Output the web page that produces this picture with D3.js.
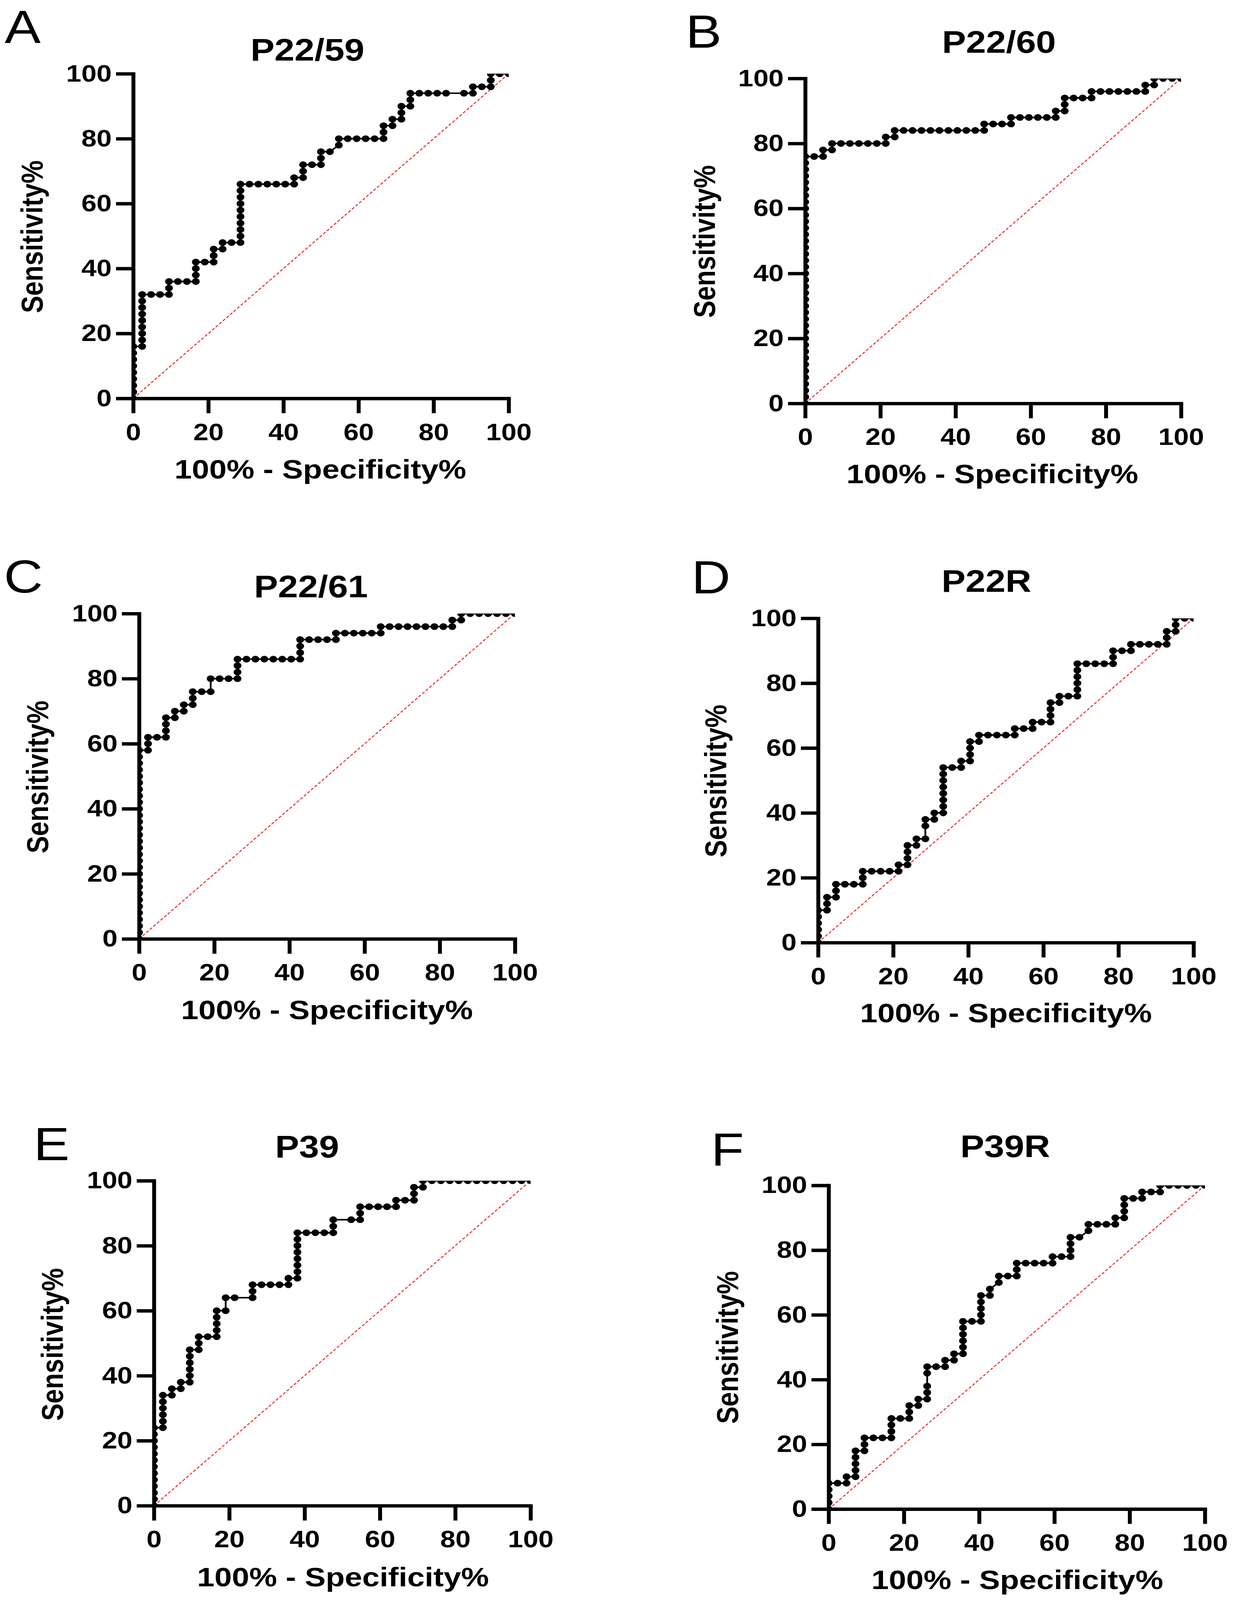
<!DOCTYPE html>
<html>
<head>
<meta charset="utf-8">
<script src="https://cdn.jsdelivr.net/npm/d3@7"></script>
<style>
  html, body { margin: 0; padding: 0; background: #fff; overflow: hidden; }
  svg { display: block; width: 100vw; height: 100vh; }
  svg text { font-family: "Liberation Sans", Arial, sans-serif; font-weight: bold; fill: #000; }
  svg text.letter { font-weight: 400; }
</style>
</head>
<body>
<svg id="fig" viewBox="0 0 3156 4751" preserveAspectRatio="none"></svg>
<script>
// tick labels and axis titles
const xTicks = [0, 20, 40, 60, 80, 100];
const yTicks = [0, 20, 40, 60, 80, 100];
const xTitle = "100% - Specificity%";
const yTitle = "Sensitivity%";

const letters = ["A", "B", "C", "D", "E", "F"];
const titles = ["P22/59", "P22/60", "P22/61", "P22R", "P39", "P39R"];

// ROC points: [100% - specificity %, sensitivity %]
const p2259 = [[0,0],[0,2],[0,4],[0,6],[0,8],[0,10],[0,12],[0,14],[0,16],
  [2.38,16],[2.38,18],[2.38,20],[2.38,22],[2.38,24],[2.38,26],[2.38,28],[2.38,30],[2.38,32],
  [4.76,32],[7.14,32],[9.52,32],[9.52,34],[9.52,36],
  [11.9,36],[14.29,36],[16.67,36],[16.67,38],[16.67,40],[16.67,42],
  [19.05,42],[21.43,42],[21.43,44],[21.43,46],
  [23.81,46],[23.81,48],[26.19,48],
  [28.57,48],[28.57,50],[28.57,52],[28.57,54],[28.57,56],[28.57,58],[28.57,60],[28.57,62],[28.57,64],[28.57,66],
  [30.95,66],[33.33,66],[35.71,66],[38.1,66],[40.48,66],[42.86,66],[42.86,68],
  [45.24,68],[45.24,70],[45.24,72],[47.62,72],[50,72],[50,74],[50,76],[52.38,76],
  [54.76,78],[54.76,80],[57.14,80],[59.52,80],[61.9,80],[64.29,80],[66.67,80],[66.67,82],[66.67,84],
  [69.05,84],[69.05,86],[71.43,86],[71.43,88],[71.43,90],[73.81,90],[73.81,92],[73.81,94],
  [76.19,94],[78.57,94],[80.95,94],[83.33,94],[88.1,94],[90.48,94],[90.48,96],[92.86,96],
  [95.24,96],[95.24,98],[95.24,100],[97.62,100],[100,100]];

const p2260 = [[0,0],[0,2],[0,4],[0,6],[0,8],[0,10],[0,12],[0,14],[0,16],[0,18],
  [0,20],[0,22],[0,24],[0,26],[0,28],[0,30],[0,32],[0,34],[0,36],[0,38],
  [0,40],[0,42],[0,44],[0,46],[0,48],[0,50],[0,52],[0,54],[0,56],[0,58],
  [0,60],[0,62],[0,64],[0,66],[0,68],[0,70],[0,72],[0,74],[0,76],
  [2.38,76],[4.76,76],[4.76,78],[7.14,78],[7.14,80],
  [9.52,80],[11.9,80],[14.29,80],[16.67,80],[19.05,80],[21.43,80],[21.43,82],
  [23.81,82],[23.81,84],[26.19,84],[28.57,84],[30.95,84],[33.33,84],[35.71,84],[38.1,84],
  [40.48,84],[42.86,84],[45.24,84],[47.62,84],[47.62,86],
  [50,86],[52.38,86],[54.76,86],[54.76,88],[57.14,88],[59.52,88],[61.9,88],[64.29,88],[66.67,88],[66.67,90],
  [69.05,90],[69.05,92],[69.05,94],[71.43,94],[73.81,94],[76.19,94],[76.19,96],
  [78.57,96],[80.95,96],[83.33,96],[85.71,96],[88.1,96],[90.48,96],[90.48,98],
  [92.86,98],[92.86,100],[95.24,100],[97.62,100],[100,100]];

const p2261 = [[0,0],[0,2],[0,4],[0,6],[0,8],[0,10],[0,12],[0,14],[0,16],[0,18],
  [0,20],[0,22],[0,24],[0,26],[0,28],[0,30],[0,32],[0,34],[0,36],[0,38],
  [0,40],[0,42],[0,44],[0,46],[0,48],[0,50],[0,52],[0,54],[0,56],[0,58],
  [2.38,58],[2.38,60],[2.38,62],[4.76,62],[7.14,62],[7.14,64],[7.14,66],[7.14,68],
  [9.52,68],[9.52,70],[11.9,70],[11.9,72],[14.29,72],[14.29,74],[14.29,76],[16.67,76],
  [19.05,76],[19.05,80],[21.43,80],[23.81,80],[26.19,80],[26.19,82],[26.19,84],[26.19,86],
  [28.57,86],[30.95,86],[33.33,86],[35.71,86],[38.1,86],[40.48,86],[42.86,86],[42.86,88],[42.86,90],[42.86,92],
  [45.24,92],[47.62,92],[50,92],[52.38,92],[52.38,94],
  [54.76,94],[57.14,94],[59.52,94],[61.9,94],[64.29,94],[64.29,96],
  [66.67,96],[69.05,96],[71.43,96],[73.81,96],[76.19,96],[78.57,96],[80.95,96],[83.33,96],[83.33,98],
  [85.71,98],[85.71,100],[88.1,100],[90.48,100],[92.86,100],[95.24,100],[97.62,100],[100,100]];

const p22R = [[0,0],[0,2],[0,4],[0,6],[0,8],[0,10],
  [2.38,10],[2.38,12],[2.38,14],[4.76,14],[4.76,16],[4.76,18],
  [7.14,18],[9.52,18],[11.9,18],[11.9,20],[11.9,22],
  [14.29,22],[16.67,22],[19.05,22],[21.43,22],[21.43,24],
  [23.81,24],[23.81,26],[23.81,28],[23.81,30],[26.19,30],[26.19,32],
  [28.57,32],[28.57,36],[28.57,38],[30.95,38],[30.95,40],
  [33.33,40],[33.33,42],[33.33,44],[33.33,46],[33.33,48],[33.33,50],[33.33,52],[33.33,54],
  [35.71,54],[38.1,54],[38.1,56],[40.48,56],[40.48,58],[40.48,60],[40.48,62],[42.86,62],[42.86,64],
  [45.24,64],[47.62,64],[50,64],[52.38,64],[52.38,66],[54.76,66],[57.14,66],[57.14,68],[59.52,68],
  [61.9,68],[61.9,70],[61.9,72],[61.9,74],[64.29,74],[64.29,76],[66.67,76],
  [69.05,76],[69.05,78],[69.05,80],[69.05,82],[69.05,84],[69.05,86],
  [71.43,86],[73.81,86],[76.19,86],[78.57,86],[78.57,88],[78.57,90],[80.95,90],[83.33,90],[83.33,92],
  [85.71,92],[88.1,92],[90.48,92],[92.86,92],[92.86,94],[92.86,96],
  [95.24,96],[95.24,98],[95.24,100],[97.62,100],[100,100]];

const p39 = [[0,0],[0,2],[0,4],[0,6],[0,8],[0,10],[0,12],[0,14],[0,16],[0,18],[0,20],[0,22],[0,24],
  [2.38,24],[2.38,26],[2.38,28],[2.38,30],[2.38,32],[2.38,34],
  [4.76,34],[4.76,36],[7.14,36],[7.14,38],
  [9.52,38],[9.52,40],[9.52,42],[9.52,44],[9.52,46],[9.52,48],
  [11.9,48],[11.9,50],[11.9,52],[14.29,52],
  [16.67,52],[16.67,54],[16.67,56],[16.67,58],[16.67,60],
  [19.05,60],[19.05,64],[21.43,64],
  [26.19,64],[26.19,66],[26.19,68],[28.57,68],[30.95,68],[33.33,68],[35.71,68],[35.71,70],
  [38.1,70],[38.1,72],[38.1,74],[38.1,76],[38.1,78],[38.1,80],[38.1,82],[38.1,84],
  [40.48,84],[42.86,84],[45.24,84],[47.62,84],[47.62,86],[47.62,88],
  [52.38,88],[54.76,88],[54.76,90],[54.76,92],
  [57.14,92],[59.52,92],[61.9,92],[64.29,92],[64.29,94],[66.67,94],
  [69.05,94],[69.05,96],[69.05,98],[71.43,98],[71.43,100],
  [73.81,100],[76.19,100],[78.57,100],[80.95,100],[83.33,100],[85.71,100],
  [88.1,100],[90.48,100],[92.86,100],[95.24,100],[97.62,100],[100,100]];

const p39R = [[0,0],[0,2],[0,4],[0,6],[0,8],[2.38,8],[4.76,8],[4.76,10],
  [7.14,10],[7.14,12],[7.14,14],[7.14,16],[7.14,18],
  [9.52,18],[9.52,20],[9.52,22],[11.9,22],[14.29,22],
  [16.67,22],[16.67,24],[16.67,26],[16.67,28],[19.05,28],
  [21.43,28],[21.43,30],[21.43,32],[23.81,32],[23.81,34],
  [26.19,34],[26.19,36],[26.19,38],[26.19,42],[26.19,44],[28.57,44],
  [30.95,44],[30.95,46],[33.33,46],[33.33,48],
  [35.71,48],[35.71,50],[35.71,52],[35.71,54],[35.71,56],[35.71,58],[38.1,58],
  [40.48,58],[40.48,60],[40.48,62],[40.48,64],[40.48,66],[42.86,66],[42.86,68],
  [45.24,70],[45.24,72],[47.62,72],[50,72],[50,74],[50,76],
  [52.38,76],[54.76,76],[57.14,76],[59.52,76],[59.52,78],[61.9,78],
  [64.29,78],[64.29,80],[64.29,82],[64.29,84],[66.67,84],
  [69.05,86],[69.05,88],[71.43,88],[73.81,88],[76.19,88],[76.19,90],
  [78.57,90],[78.57,92],[78.57,94],[78.57,96],[80.95,96],[83.33,96],[83.33,98],
  [85.71,98],[88.1,98],[88.1,100],[90.48,100],[92.86,100],[95.24,100],[97.62,100],[100,100]];

const series = [p2259, p2260, p2261, p22R, p39, p39R];

// page layout of each panel (pixels)
const layout = [
  { left: 341,  top: 219,  w: 961, h: 964, titleX: 787,  titleY: 180,  letterX: 12,   letterY: 128,
    xLabX: 820,  xLabY: 1421, yLabX: 109,  yLabY: 703 },
  { left: 2061, top: 233,  w: 962, h: 965, titleX: 2557, titleY: 157,  letterX: 1755, letterY: 142,
    xLabX: 2540, xLabY: 1435, yLabX: 1830, yLabY: 717 },
  { left: 356,  top: 1822, w: 962, h: 966, titleX: 796,  titleY: 1774, letterX: 10,   letterY: 1760,
    xLabX: 837,  xLabY: 3026, yLabX: 123,  yLabY: 2307 },
  { left: 2094, top: 1836, w: 961, h: 963, titleX: 2525, titleY: 1757, letterX: 1770, letterY: 1762,
    xLabX: 2575, xLabY: 3036, yLabX: 1859, yLabY: 2319 },
  { left: 394,  top: 3506, w: 964, h: 965, titleX: 786,  titleY: 3437, letterX: 86,   letterY: 3445,
    xLabX: 878,  xLabY: 4710, yLabX: 161,  yLabY: 3992 },
  { left: 2121, top: 3520, w: 963, h: 961, titleX: 2573, titleY: 3436, letterX: 1820, letterY: 3461,
    xLabX: 2604, xLabY: 4719, yLabX: 1889, yLabY: 4001 }
];

const svg = d3.select("#fig");
svg.append("rect").attr("width", 3156).attr("height", 4751).attr("fill", "#fff");

series.forEach((data, i) => {
  const L = layout[i];
  const x = d3.scaleLinear().domain([0, 100]).range([0, L.w]);
  const y = d3.scaleLinear().domain([0, 100]).range([L.h, 0]);

  const g = svg.append("g").attr("transform", `translate(${L.left},${L.top})`);

  g.append("clipPath").attr("id", "clip" + i)
    .append("rect").attr("width", L.w).attr("height", L.h);

  const plot = g.append("g").attr("clip-path", `url(#clip${i})`);

  // line of identity
  plot.append("line")
    .attr("x1", x(0)).attr("y1", y(0))
    .attr("x2", x(100)).attr("y2", y(100))
    .attr("stroke", "#ee1c1c")
    .attr("stroke-width", 2.6)
    .attr("stroke-dasharray", "8,5");

  plot.append("path")
    .datum(data)
    .attr("fill", "none")
    .attr("stroke", "#000")
    .attr("stroke-width", 4.5)
    .attr("d", d3.line().x(d => x(d[0])).y(d => y(d[1])));

  plot.selectAll("circle")
    .data(data)
    .join("circle")
    .attr("cx", d => x(d[0]))
    .attr("cy", d => y(d[1]))
    .attr("r", 10)
    .attr("fill", "#000");

  const xAxis = g.append("g")
    .attr("transform", `translate(0,${L.h})`)
    .call(d3.axisBottom(x).tickValues(xTicks).tickSize(44).tickSizeOuter(0).tickPadding(30));

  const yAxis = g.append("g")
    .call(d3.axisLeft(y).tickValues(yTicks).tickSize(44).tickSizeOuter(0).tickPadding(11));

  [xAxis, yAxis].forEach(ax => {
    ax.attr("font-family", null).attr("font-size", null);
    ax.select(".domain").attr("stroke", "#000").attr("stroke-width", 10).attr("stroke-linecap", "square");
    ax.selectAll(".tick line").attr("stroke", "#000").attr("stroke-width", 10);
    ax.selectAll(".tick text").style("font-size", "70px");
  });

  svg.append("text")
    .attr("x", L.titleX).attr("y", L.titleY)
    .attr("text-anchor", "middle")
    .style("font-size", "92px")
    .text(titles[i]);

  svg.append("text")
    .attr("class", "letter")
    .attr("x", L.letterX).attr("y", L.letterY)
    .style("font-size", "138px")
    .text(letters[i]);

  svg.append("text")
    .attr("x", L.xLabX).attr("y", L.xLabY)
    .attr("text-anchor", "middle")
    .style("font-size", "80px")
    .text(xTitle);

  svg.append("text")
    .attr("transform", `translate(${L.yLabX},${L.yLabY}) rotate(-90)`)
    .attr("text-anchor", "middle")
    .style("font-size", "77px")
    .text(yTitle);
});
</script>
</body>
</html>
